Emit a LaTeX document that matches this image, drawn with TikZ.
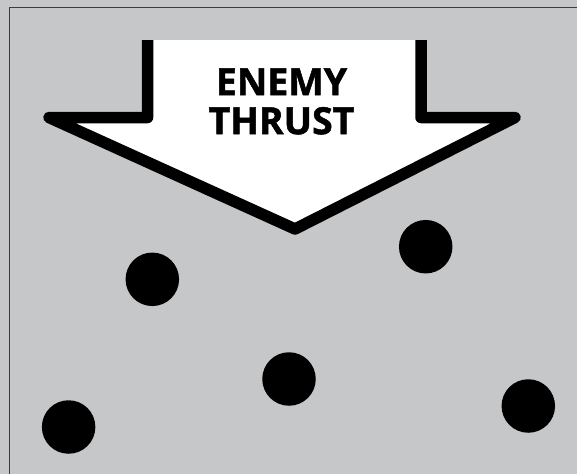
\documentclass[tikz,border=0pt]{standalone}
\usepackage{fontspec}
\setmainfont{Open Sans}[BoldFeatures={FakeBold=1.3}]
\usetikzlibrary{positioning}
\definecolor{bggray}{RGB}{198,199,201}
\definecolor{framegray}{RGB}{60,60,60}
\tikzset{
  unit/.style={circle,fill=black,inner sep=0pt,minimum size=53.5pt},
  thrust/.style={draw=black,fill=white,line width=11.5pt,line join=round},
  every picture/.style={line cap=butt}}

\begin{document}
\begin{tikzpicture}[x=1pt,y=-1pt]
  \fill[bggray] (0,0) rectangle (577,474); \useasboundingbox (0,0) rectangle (577,474);
  \draw[framegray,line width=1.2pt] (9.5,474) |- (577,7.5);
  % the arrow, open at its top
  \fill[white] (147.5,40) -- (147.5,117.5) -- (49,117.5) -- (295,229) -- (515,117.5) -- (421,117.5) -- (421,40) -- cycle;
  \draw[thrust,fill=none] (147.5,40) -- (147.5,117.5) -- (49,117.5) -- (295,229) -- (515,117.5) -- (421,117.5) -- (421,40);
  \node[font=\bfseries\fontsize{37.5}{39}\selectfont,align=center,inner sep=0pt] (label) at (281.5,101.5) {ENEMY\\THRUST};
  \node[unit] (u1) at (152.3,279.3) {}; \node[unit] (u2) at (425.7,246.7) {};
  \node[unit] (u3) at (289,379) {}; \node[unit] (u4) at (68.6,427) {}; \node[unit] (u5) at (528.3,406) {};
\end{tikzpicture}
\end{document}
